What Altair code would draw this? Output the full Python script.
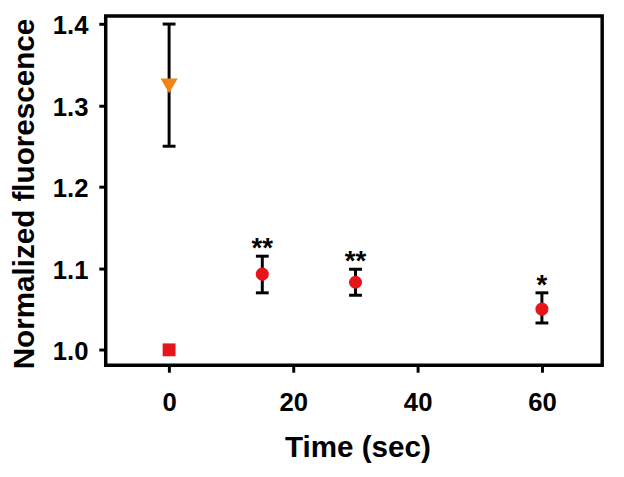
import altair as alt
import pandas as pd

# Data
times = [0, 15, 30, 60]
means = [1.0, 1.093, 1.083, 1.050]
err_low = [1.0, 1.070, 1.067, 1.033]
err_high = [1.0, 1.115, 1.099, 1.070]
stars = ["", "**", "**", "*"]

ctrl_time = [0]
ctrl_mean = [1.324]
ctrl_low = [1.250]
ctrl_high = [1.400]

x_ticks = [0, 20, 40, 60]
y_ticks = [1.0, 1.1, 1.2, 1.3, 1.4]

df = pd.DataFrame({"t": times, "m": means, "lo": err_low, "hi": err_high, "star": stars})
dfc = pd.DataFrame({"t": ctrl_time, "m": ctrl_mean, "lo": ctrl_low, "hi": ctrl_high})

FONT = "Liberation Sans"
RED = "#e8141c"
ORANGE = "#f08418"

xscale = alt.Scale(domain=[-10.2, 69.7], nice=False, zero=False)
yscale = alt.Scale(domain=[0.981, 1.41], nice=False, zero=False)

xax = alt.Axis(values=x_ticks, title="Time (sec)", grid=False, domain=False,
               tickColor="black", tickWidth=3, tickSize=7,
               labelFont=FONT, labelFontSize=26, labelFontWeight="bold", labelColor="black",
               labelBaseline="alphabetic", labelPadding=39,
               titleFont=FONT, titleFontSize=30, titleFontWeight="bold", titleColor="black",
               titleBaseline="alphabetic", titleX=255, titleY=92)
yax = alt.Axis(values=y_ticks, format=".1f", title="Normalized fluorescence", grid=False, domain=False,
               tickColor="black", tickWidth=3, tickSize=7,
               labelFont=FONT, labelFontSize=26, labelFontWeight="bold", labelColor="black",
               labelBaseline="middle", labelPadding=11, labelOffset=2,
               titleFont=FONT, titleFontSize=30, titleFontWeight="bold", titleColor="black",
               titleBaseline="alphabetic", titleX=-73, titleY=180, titleAngle=-90)

X = alt.X("t:Q", scale=xscale, axis=xax)
Y = alt.Y("m:Q", scale=yscale, axis=yax)

basec = alt.Chart(dfc)
df_e = df[df["t"] > 0]
base_e = alt.Chart(df_e)

rules = base_e.mark_rule(color="black", strokeWidth=3).encode(
    x=alt.X("t:Q", scale=xscale), y=alt.Y("lo:Q", scale=yscale), y2="hi:Q")
cap_lo = base_e.mark_tick(color="black", thickness=3, size=13, orient="horizontal", opacity=1).encode(
    x=alt.X("t:Q", scale=xscale), y=alt.Y("lo:Q", scale=yscale))
cap_hi = base_e.mark_tick(color="black", thickness=3, size=13, orient="horizontal", opacity=1).encode(
    x=alt.X("t:Q", scale=xscale), y=alt.Y("hi:Q", scale=yscale))

crules = basec.mark_rule(color="black", strokeWidth=3).encode(
    x=alt.X("t:Q", scale=xscale), y=alt.Y("lo:Q", scale=yscale), y2="hi:Q")
ccap_lo = basec.mark_tick(color="black", thickness=3, size=13, orient="horizontal", opacity=1).encode(
    x=alt.X("t:Q", scale=xscale), y=alt.Y("lo:Q", scale=yscale))
ccap_hi = basec.mark_tick(color="black", thickness=3, size=13, orient="horizontal", opacity=1).encode(
    x=alt.X("t:Q", scale=xscale), y=alt.Y("hi:Q", scale=yscale))

circles = base_e.mark_point(shape="circle", filled=True, color=RED, size=175, opacity=1).encode(x=X, y=Y)
square = alt.Chart(df[df["t"] == 0]).mark_point(shape="square", filled=True, color=RED, size=170, opacity=1).encode(x=X, y=Y)
tri = basec.mark_point(shape="triangle-down", filled=True, color=ORANGE, size=300, opacity=1).encode(x=X, y=Y)

star_text = base_e.mark_text(font=FONT, fontSize=28, fontWeight="bold", color="black",
                             baseline="alphabetic", dy=1).encode(
    x=alt.X("t:Q", scale=xscale), y=alt.Y("hi:Q", scale=yscale), text="star:N")

chart = alt.layer(rules, cap_lo, cap_hi, crules, ccap_lo, ccap_hi, circles, square, tri, star_text).properties(
    width=503, height=354,
    background="white",
    autosize=alt.AutoSizeParams(type="none"),
    padding={"left": 99, "top": 5, "right": 14, "bottom": 100},
).configure_view(stroke="black", strokeWidth=3.5)

chart.save("out.html", embed_options={"renderer": "svg", "actions": False})
